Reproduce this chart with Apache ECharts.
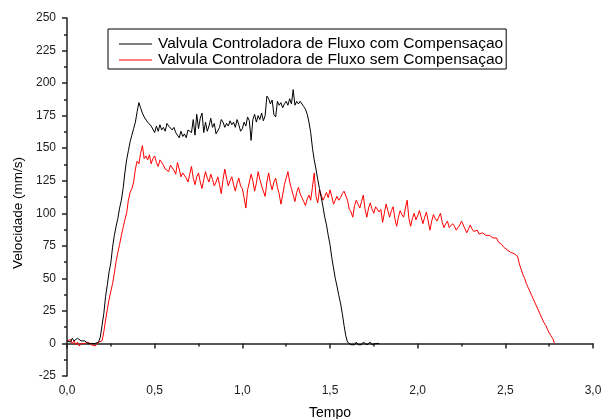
<!DOCTYPE html>
<html>
<head>
<meta charset="utf-8">
<title>Velocidade x Tempo</title>
<script src="https://cdn.jsdelivr.net/npm/echarts@6.0.0/dist/echarts.min.js"></script>
<style>
  html, body { margin: 0; padding: 0; background: #fff; }
  #main { width: 603px; height: 419px; }
</style>
</head>
<body>
<div id="main"></div>
<script>
// amostragem: um ponto a cada 0,01 s, começando em t = 0
const sampleStep = 0.01;

const nameCom = "Valvula Controladora de Fluxo com Compensaçao";
const nameSem = "Valvula Controladora de Fluxo sem Compensaçao";

// velocidade (mm/s) - com compensação, t = 0,00 ... 1,78
const velCom = [
  2, 3, 1, 4, 2, 3, 4, 5, 2, 1, 2, 1, 0, 1, 0, -1, 0, 0, 1,
  5, 14, 23, 36, 45, 55, 62, 74, 83, 90, 96,
  104, 110, 119, 131, 141, 148, 155, 160, 165, 170,
  178, 185, 181, 177, 174, 175, 170, 171, 167, 166,
  162, 167, 163, 168, 164, 166, 163, 169, 167, 168,
  164, 166, 162, 160, 158, 163, 159, 161, 158, 164,
  165, 162, 172, 160, 176, 165, 173, 177, 162, 170,
  163, 167, 173, 166, 169, 161, 160, 166, 172, 170,
  166, 169, 167, 171, 168, 170, 166, 172, 168, 163,
  165, 170, 167, 174, 171, 156, 172, 176, 170, 175,
  172, 177, 171, 175, 190, 188, 184, 187, 176, 174,
  186, 183, 185, 181, 184, 186, 183, 188, 184, 195,
  183, 186, 184, 186, 185, 182, 180, 176, 170, 162,
  150, 141, 134, 126, 119, 112, 105, 97, 91, 83,
  76, 66, 58, 50, 44, 37, 31, 23, 14, 6,
  1, 0, -1, 0, -1, 1, -1, 0, -1, 1,
  0, -1, 0, 1, -1, 0, 0, 1, 0
];

// velocidade (mm/s) - sem compensação, t = 0,00 ... 2,78
const velSem = [
  2, 1, 3, 0, 2, -1, 1, -2, 0, 1,
  0, -1, 1, 0, -1, 0, -2, -1, 1, 0,
  2, 9, 18, 26, 34, 40, 46, 54, 63, 70,
  76, 83, 89, 95, 100, 110, 116, 119, 124, 134,
  140, 138, 146, 152, 142, 144, 141, 145, 138, 142,
  144, 139, 136, 141, 142, 137, 134, 133, 132, 137,
  138, 133, 130, 139, 134, 128, 131, 132, 127, 124,
  130, 136, 127, 122, 128, 131, 124, 119, 126, 132,
  127, 124, 130, 126, 121, 124, 128, 122, 115, 126,
  134, 127, 121, 125, 128, 122, 117, 123, 127, 121,
  119, 112, 104, 118, 124, 130, 125, 117, 123, 132,
  126, 121, 117, 113, 124, 131, 123, 118, 124, 127,
  120, 115, 107, 114, 122, 127, 132, 124, 119, 114,
  109, 116, 120, 115, 112, 109, 106, 111, 114, 110,
  120, 131, 113, 108, 118, 114, 110, 113, 116, 112,
  118, 113, 107, 110, 113, 110, 112, 115, 117, 118,
  110, 103, 101, 97, 106, 110, 107, 104, 109, 114,
  103, 97, 104, 108, 103, 100, 105, 104, 101, 103,
  93, 100, 107, 102, 97, 102, 105, 96, 90, 97,
  102, 99, 97, 104, 110, 96, 90, 96, 100, 95,
  98, 102, 97, 92, 97, 101, 94, 87, 94, 99,
  96, 94, 97, 100, 93, 89, 92, 94, 89, 90,
  92, 90, 87, 89, 91, 94, 93, 88, 85, 88,
  91, 88, 86, 87, 87, 84, 83, 85, 86, 83,
  82, 83, 82, 81, 80, 81, 78, 77, 76, 74,
  73, 72, 72, 70, 69, 69, 68, 67, 61, 57,
  53, 50, 46, 43, 40, 37, 34, 31, 28, 25,
  22, 19, 16, 14, 11, 8, 6, 4, 0
];

// marcas dos eixos
const xTicks = [0, 0.5, 1.0, 1.5, 2.0, 2.5, 3.0];
const yTicks = [-25, 0, 25, 50, 75, 100, 125, 150, 175, 200, 225, 250];

const font = "Liberation Sans, Arial, sans-serif";

// junta tempo e velocidade
function toPairs(values) {
  return values.map((v, i) => [+(i * sampleStep).toFixed(2), v]);
}

const chart = echarts.init(document.getElementById("main"));

const option = {
  animation: false,
  backgroundColor: "#fff",
  textStyle: { fontFamily: font },
  grid: {
    left: 67,
    right: 10,
    top: 18,
    bottom: 43,
    outerBoundsMode: "none",
  },
  legend: {
    data: [nameCom, nameSem],
    orient: "vertical",
    left: 108,
    top: 29,
    padding: [7, 3, 1, 11],
    icon: "rect",
    itemWidth: 33,
    itemHeight: 1,
    itemGap: 0,
    borderColor: "#000",
    borderWidth: 1,
    textStyle: { fontFamily: font, fontSize: 15.5, color: "#000", padding: [0, 0, 0, 1] },
  },
  xAxis: {
    type: "value",
    min: xTicks[0],
    max: xTicks[xTicks.length - 1],
    interval: 0.5,
    name: "Tempo",
    nameLocation: "middle",
    nameGap: 30,
    nameTextStyle: { fontFamily: font, fontSize: 14, color: "#000" },
    axisLine: { show: true, lineStyle: { color: "#222", width: 1.5 } },
    axisTick: { show: true, length: 5, lineStyle: { color: "#222", width: 1.5 } },
    minorTick: { show: true, splitNumber: 2, length: 3, lineStyle: { color: "#222", width: 1.5 } },
    splitLine: { show: false },
    axisLabel: {
      margin: 9,
      fontSize: 12,
      color: "#222",
      formatter: (v) => v.toFixed(1).replace(".", ","),
    },
  },
  yAxis: {
    type: "value",
    min: yTicks[0],
    max: yTicks[yTicks.length - 1],
    interval: 25,
    axisLine: { show: true, lineStyle: { color: "#222", width: 1.5 } },
    axisTick: { show: true, length: 5, lineStyle: { color: "#222", width: 1.5 } },
    minorTick: { show: true, splitNumber: 2, length: 3, lineStyle: { color: "#222", width: 1.5 } },
    splitLine: { show: false },
    axisLabel: { margin: 11, fontSize: 12, color: "#222" },
  },
  graphic: [
    {
      type: "text",
      x: 18,
      y: 213,
      rotation: Math.PI / 2,
      style: {
        text: "Velocidade (mm/s)",
        font: "13.5px " + font,
        fill: "#000",
        align: "center",
        verticalAlign: "middle",
      },
    },
  ],
  series: [
    {
      name: nameSem,
      type: "line",
      symbol: "none",
      data: toPairs(velSem),
      lineStyle: { color: "#ff0000", width: 1 },
      itemStyle: { color: "#ff0000" },
    },
    {
      name: nameCom,
      type: "line",
      symbol: "none",
      data: toPairs(velCom),
      lineStyle: { color: "#000", width: 1 },
      itemStyle: { color: "#000" },
    },
  ],
};

chart.setOption(option);
</script>
</body>
</html>
